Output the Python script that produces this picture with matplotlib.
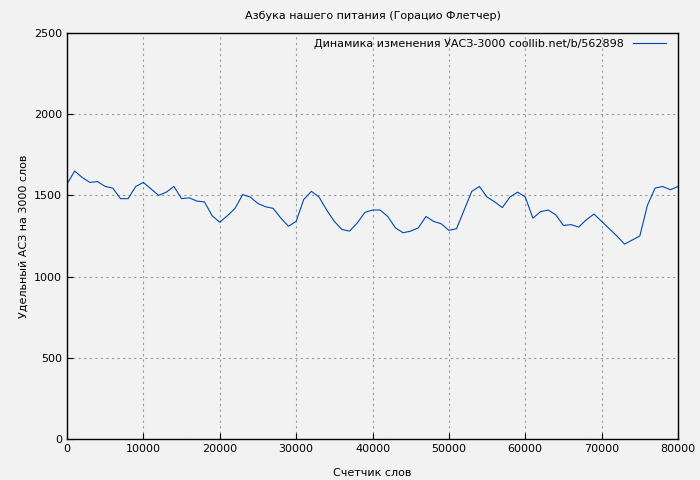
import matplotlib
matplotlib.use("Agg")
import matplotlib.pyplot as plt

x = list(range(0, 81000, 1000))
y = [1570,1650,1610,1580,1585,1555,1545,1480,1480,1555,1580,1540,1500,1520,1555,1480,1485,1465,1460,1375,
     1335,1375,1420,1505,1490,1450,1430,1420,1360,1310,1340,1475,1525,1490,1410,1340,1290,1280,1330,1395,
     1410,1410,1370,1300,1270,1280,1300,1370,1340,1325,1285,1295,1410,1525,1555,1490,1460,1425,1490,1520,
     1490,1360,1400,1410,1380,1315,1320,1305,1350,1385,1340,1295,1250,1200,1225,1250,1440,1545,1555,1535,1555]

bg = "#f2f2f2"
fig = plt.figure(figsize=(7, 4.8), dpi=100, facecolor=bg)
ax = fig.add_axes([67/700, 41/480, 611/700, 406/480], facecolor=bg)
ax.plot(x, y, color="#0047b3", lw=0.8, label="Динамика изменения УАСЗ-3000 coollib.net/b/562898")
ax.set_xlim(0, 80000)
ax.set_ylim(0, 2500)
ax.set_xticks(range(0, 80001, 10000))
ax.set_yticks(range(0, 2501, 500))
ax.grid(True, color="#999999", ls=(0, (2, 3)), lw=0.8)
ax.tick_params(labelsize=8, direction="in", length=4)
ax.set_title("Азбука нашего питания (Горацио Флетчер)", fontsize=8, pad=10)
ax.set_xlabel("Счетчик слов", fontsize=8, labelpad=10)
ax.set_ylabel("Удельный АСЗ на 3000 слов", fontsize=8)
leg = ax.legend(loc="upper right", fontsize=8, frameon=False, markerfirst=False,
                handlelength=3, borderaxespad=0.1, bbox_to_anchor=(0.99, 1.0))
for s in ax.spines.values():
    s.set_linewidth(1)
fig.savefig("out.png", facecolor=bg)
